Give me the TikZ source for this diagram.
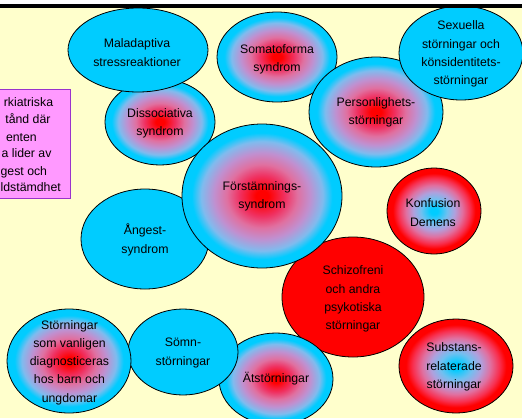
\documentclass[tikz,border=0pt]{standalone}
\usepackage{fontspec}
\setmainfont{Liberation Sans}
\definecolor{bg}{HTML}{FFFFCC}
\definecolor{cy}{HTML}{00CCFF}
\definecolor{rd}{HTML}{FF0000}
\definecolor{pinkbox}{HTML}{FF99FF}
\definecolor{purp}{HTML}{9933CC}
\definecolor{ga}{HTML}{F03060}
\definecolor{gb}{HTML}{E070A0}
\definecolor{gc}{HTML}{C090D0}
\definecolor{gd}{HTML}{80BBEE}
\definecolor{ha}{HTML}{70C0F0}
\definecolor{hb}{HTML}{B0A0DD}
\definecolor{hc}{HTML}{E070A0}
\definecolor{hd}{HTML}{F83050}
\pgfdeclareradialshading{redcore}{\pgfpoint{0bp}{0bp}}{color(0bp)=(rd); color(2bp)=(rd); color(7bp)=(ga); color(11bp)=(gb); color(15bp)=(gc); color(19bp)=(gd); color(22bp)=(cy); color(50bp)=(cy)}
\pgfdeclareradialshading{bluecore}{\pgfpoint{0bp}{0bp}}{color(0bp)=(cy); color(2bp)=(cy); color(7bp)=(ha); color(11bp)=(hb); color(15bp)=(hc); color(19bp)=(hd); color(22bp)=(rd); color(50bp)=(rd)}
\tikzset{
  bub/.style={draw=black, line width=0.8pt},
  solidcy/.style={bub, fill=cy},
  solidrd/.style={bub, fill=rd},
  rcore/.style={bub, shading=redcore},
  bcore/.style={bub, shading=bluecore},
  lbl/.style={align=center, font=\fontsize{12.3}{18.3}\selectfont, inner sep=0pt, text=black},
  boxtxt/.style={anchor=base east, font=\fontsize{12.3}{14}\selectfont, inner sep=0pt}
}
\begin{document}
\begin{tikzpicture}[x=1pt,y=-1pt]
\useasboundingbox (0,0) rectangle (522,418);
\fill[bg] (0,0) rectangle (522,418);
% pink box
\draw[fill=pinkbox, draw=purp, line width=1pt] (-10,89) rectangle (70,198);
\node[boxtxt] (b1) at (53.3,106) {rkiatriska};
\node[boxtxt] (b2) at (50.7,123.5) {tånd där};
\node[boxtxt] (b3) at (37,141) {enten};
\node[boxtxt] (b4) at (51.7,157.5) {a lider av};
\node[boxtxt] (b5) at (47.3,175) {gest och};
\node[boxtxt] (b6) at (61,191.5) {ldstämdhet};
% bubbles, bottom to top
\path[solidrd] (353,297) ellipse [x radius=71pt, y radius=60pt];
\node[lbl] (schizo) at (353,299) {Schizofreni\\och andra\\psykotiska\\störningar};
\path[solidcy] (145,239) ellipse [x radius=64pt, y radius=50pt];
\node[lbl] (angest) at (145,240) {Ångest-\\syndrom};
\path[rcore] (160,122) ellipse [x radius=55pt, y radius=43pt];
\node[lbl] (disso) at (160,123) {Dissociativa\\syndrom};
\path[solidcy] (138,50) ellipse [x radius=70pt, y radius=42pt];
\node[lbl] (malad) at (137,52.5) {Maladaptiva\\stressreaktioner};
\path[rcore] (277,57) ellipse [x radius=60pt, y radius=45pt];
\node[lbl] (somato) at (277,59) {Somatoforma\\syndrom};
\path[rcore] (376,112) ellipse [x radius=67pt, y radius=55pt];
\node[lbl] (person) at (376,112.5) {Personlighets-\\störningar};
\path[solidcy] (461,53) ellipse [x radius=62pt, y radius=47pt];
\node[lbl] (sex) at (461,54) {Sexuella\\störningar och\\könsidentitets-\\störningar};
\path[rcore] (262,196) ellipse [x radius=80pt, y radius=72pt];
\node[lbl] (forst) at (262,196) {Förstämnings-\\syndrom};
\path[bcore] (434,211) ellipse [x radius=47pt, y radius=43pt];
\node[lbl] (konf) at (433,212.5) {Konfusion\\Demens};
\path[bcore] (456,366) ellipse [x radius=57pt, y radius=47pt];
\node[lbl] (subst) at (454,367) {Substans-\\relaterade\\störningar};
\path[rcore] (276,379) ellipse [x radius=57pt, y radius=46pt];
\node[lbl] (ats) at (276,379) {Ätstörningar};
\path[solidcy] (183,352) ellipse [x radius=55pt, y radius=43pt];
\node[lbl] (somn) at (183,353) {Sömn-\\störningar};
\path[rcore] (69,361) ellipse [x radius=62pt, y radius=52pt];
\node[lbl] (barn) at (69.5,362.5) {Störningar\\som vanligen\\diagnosticeras\\hos barn och\\ungdomar};
% top bar
\fill[white] (0,0) rectangle (522,4);
\fill[black] (0,4) rectangle (522,7.5);
\end{tikzpicture}
\end{document}
